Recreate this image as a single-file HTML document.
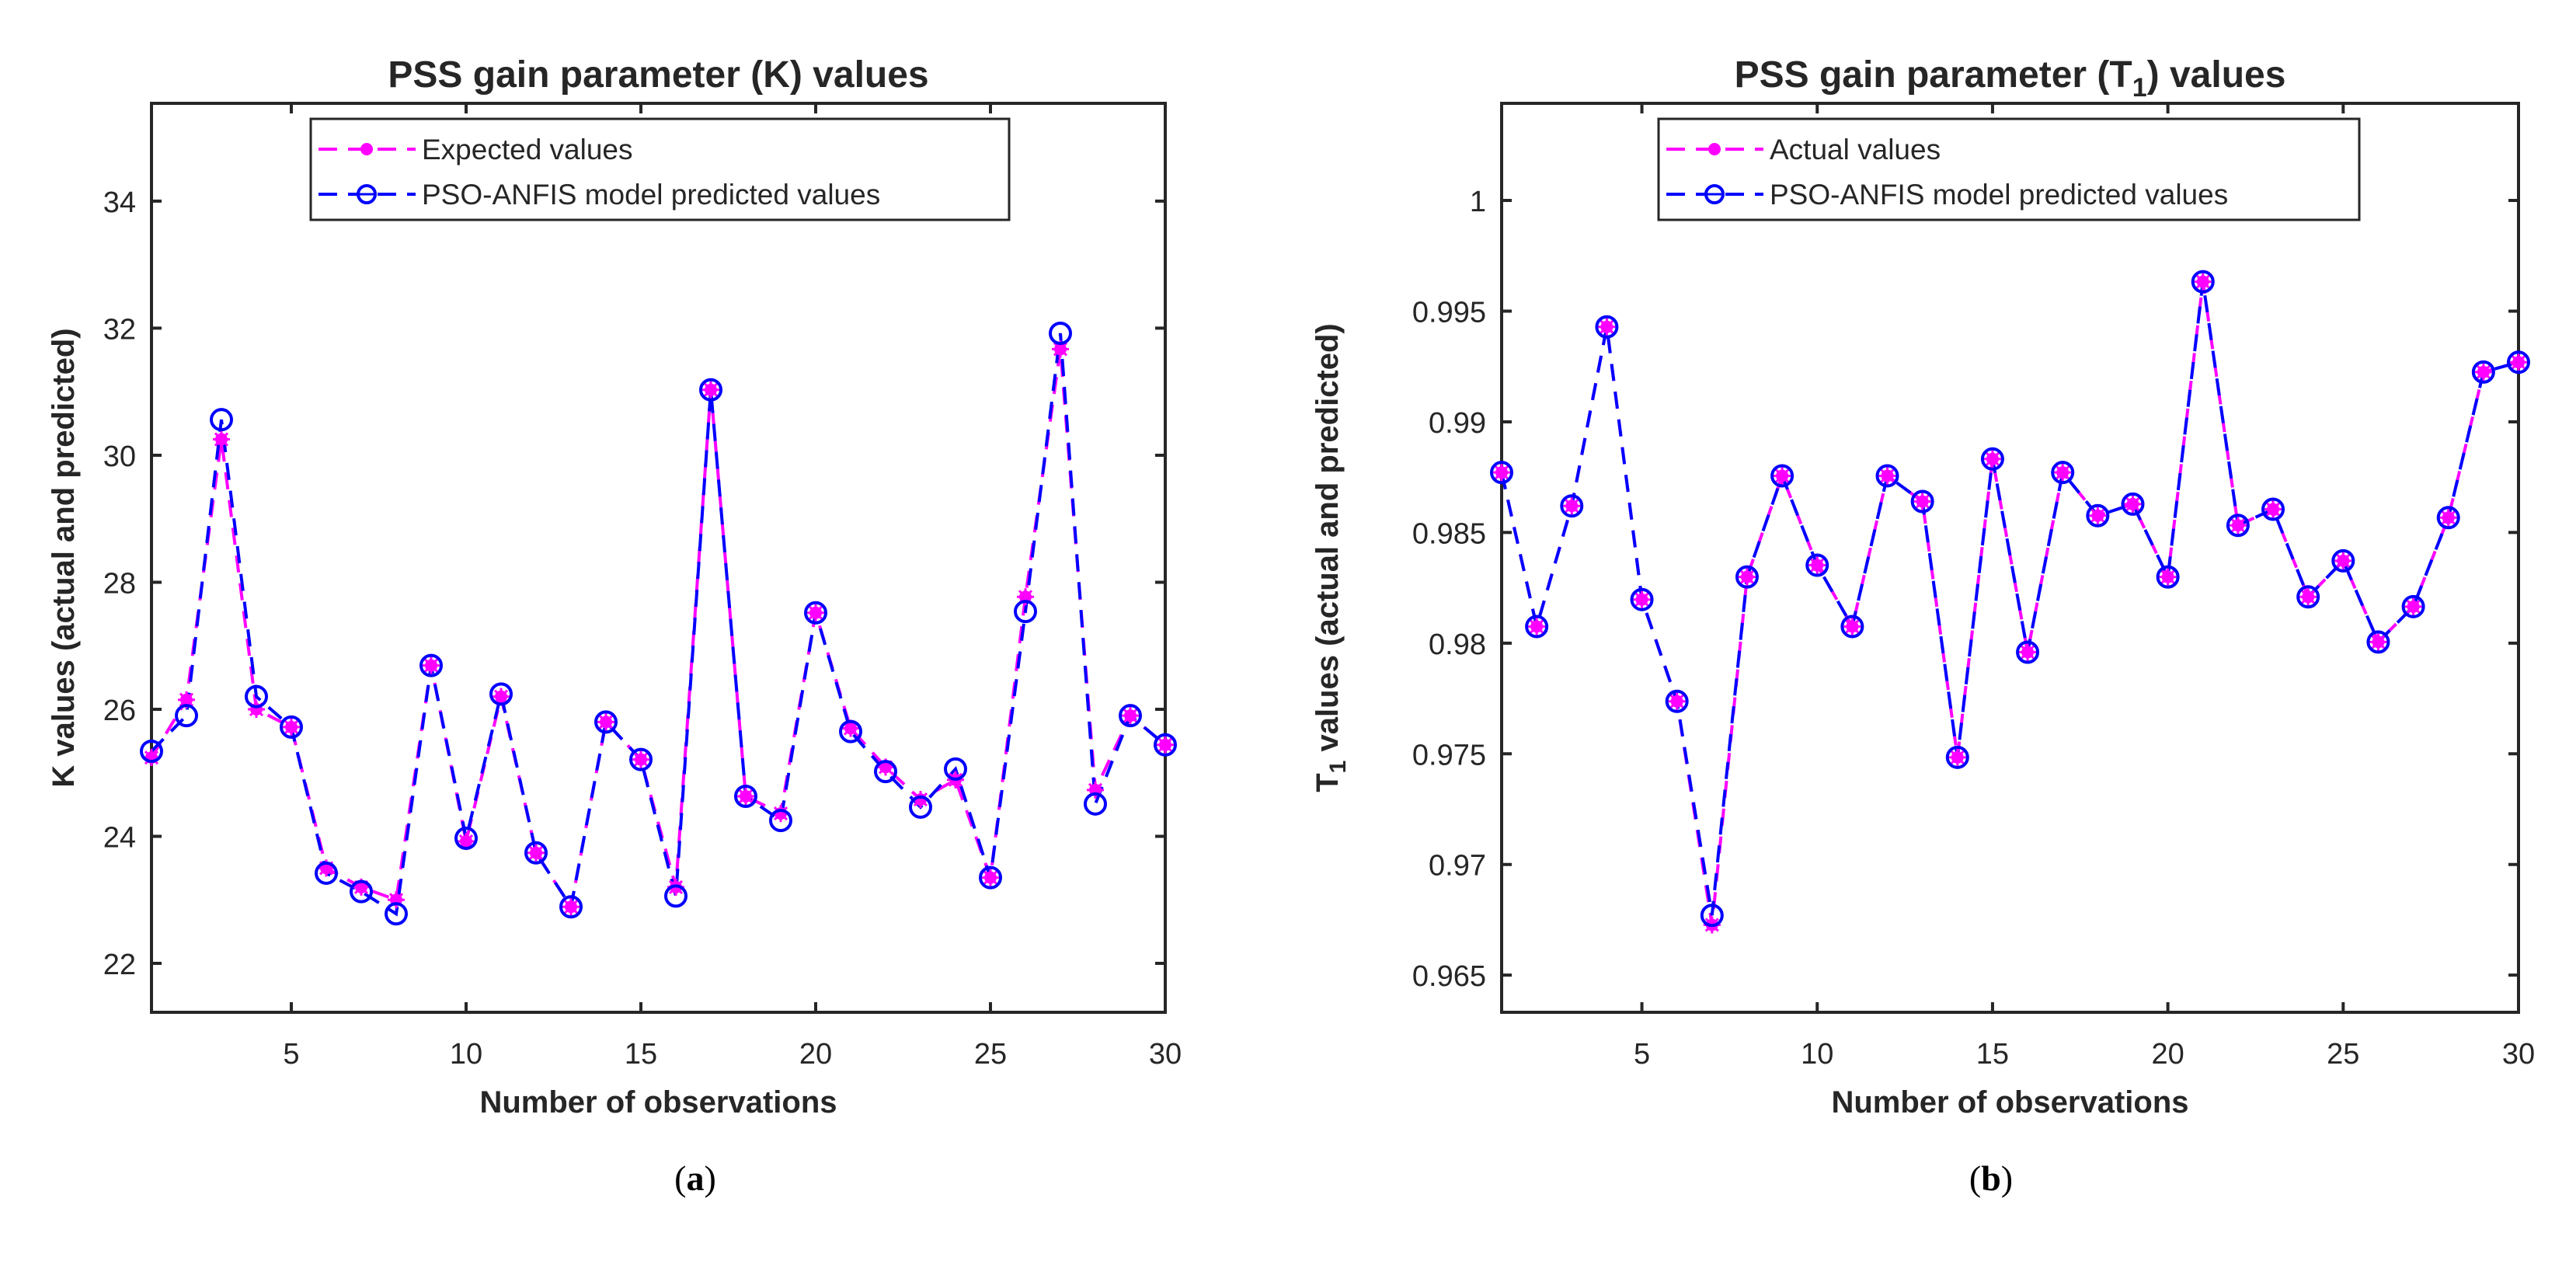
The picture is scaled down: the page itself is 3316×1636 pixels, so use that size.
<!DOCTYPE html>
<html><head><meta charset="utf-8">
<style>
html,body{margin:0;padding:0;background:#fff;}
svg{display:block;}
text{font-family:"Liberation Sans",Arial,sans-serif;fill:#262626;}
</style></head>
<body>
<svg id="fig" width="3316" height="1636" viewBox="0 0 3316 1636" xmlns="http://www.w3.org/2000/svg">
<g id="pa"></g>
<g id="pb"></g>
<text x="895" y="1532" text-anchor="middle" style="font-family:'Liberation Serif',serif;font-size:46px;fill:#000">(<tspan font-weight="bold">a</tspan>)</text>
<text x="2563" y="1532" text-anchor="middle" style="font-family:'Liberation Serif',serif;font-size:46px;fill:#000">(<tspan font-weight="bold">b</tspan>)</text>
</svg>
<script>
const obs = [1,2,3,4,5,6,7,8,9,10,11,12,13,14,15,16,17,18,19,20,21,22,23,24,25,26,27,28,29,30];
const kExpected = [25.24,26.15,30.25,26.0,25.72,23.5,23.2,23.0,26.69,23.92,26.2,23.74,22.89,25.8,25.21,23.2,31.03,24.63,24.36,27.52,25.7,25.09,24.58,24.89,23.35,27.77,31.67,24.73,25.9,25.44];
const kPredicted = [25.34,25.9,30.56,26.2,25.72,23.42,23.13,22.78,26.69,23.97,26.24,23.74,22.89,25.8,25.21,23.06,31.03,24.63,24.25,27.52,25.65,25.02,24.46,25.06,23.35,27.54,31.92,24.51,25.9,25.44];
const t1Actual = [0.98771,0.98075,0.9862,0.99429,0.98197,0.97737,0.96727,0.98299,0.98756,0.98352,0.98075,0.98756,0.9864,0.97484,0.98832,0.97959,0.98771,0.98576,0.98628,0.98299,0.99633,0.98532,0.98605,0.98209,0.98372,0.98005,0.98165,0.98567,0.99225,0.99269];
const t1Predicted = [0.98771,0.98075,0.9862,0.99429,0.98197,0.97737,0.9677,0.98299,0.98756,0.98352,0.98075,0.98756,0.9864,0.97484,0.98832,0.97959,0.98771,0.98576,0.98628,0.98299,0.99633,0.98532,0.98605,0.98209,0.98372,0.98005,0.98165,0.98567,0.99225,0.99269];
const xTicks = [5,10,15,20,25,30];
const kTicks = [22,24,26,28,30,32,34];
const kTickLabels = ["22","24","26","28","30","32","34"];
const t1Ticks = [0.965,0.97,0.975,0.98,0.985,0.99,0.995,1];
const t1TickLabels = ["0.965","0.97","0.975","0.98","0.985","0.99","0.995","1"];

const NS="http://www.w3.org/2000/svg";
function mk(parent,tag,attrs,txt){const e=document.createElementNS(NS,tag);for(const k in attrs)e.setAttribute(k,attrs[k]);if(txt!==undefined)e.textContent=txt;parent.appendChild(e);return e;}

function panel(g,cfg){
  const L=cfg.L,R=cfg.R,T=133,B=1303;
  const xs=v=>L+(v-1)/(29)*(R-L);
  const ys=v=>B-(v-cfg.ymin)/(cfg.ymax-cfg.ymin)*(B-T);
  const box=mk(g,'rect',{x:L,y:T,width:R-L,height:B-T,fill:'#fff',stroke:'#262626','stroke-width':4});
  
  
  xTicks.forEach(t=>{
    const x=xs(t);
    const tk=mk(g,'path',{d:`M${x},${B}V${B-13}M${x},${T}V${T+13}`,stroke:'#262626','stroke-width':4});
    
    
    const lb=mk(g,'text',{x:x,y:B+66,'text-anchor':'middle','font-size':38},String(t));
    
    
  });
  cfg.ticks.forEach((t,i)=>{
    const y=ys(t);
    const tk=mk(g,'path',{d:`M${L},${y}H${L+13}M${R},${y}H${R-13}`,stroke:'#262626','stroke-width':4});
    
    
    const lb=mk(g,'text',{x:L-20,y:y+14,'text-anchor':'end','font-size':38},cfg.labels[i]);
    
    
  });
  const pts=a=>a.map((v,i)=>xs(obs[i])+','+ys(v)).join(' ');
  const l1=mk(g,'polyline',{points:pts(cfg.s1),fill:'none',stroke:'#ff00ff','stroke-width':4,'stroke-dasharray':'22,14'});
  
  
  const l2=mk(g,'polyline',{points:pts(cfg.s2),fill:'none',stroke:'#0000ff','stroke-width':4,'stroke-dasharray':'22,14'});
  
  
  cfg.s1.forEach((v,i)=>{
    const x=xs(obs[i]),y=ys(v);
    const m=mk(g,'g',{});
    
    
    mk(m,'circle',{cx:x,cy:y,r:8,fill:'#ff00ff'});
    mk(m,'path',{d:`M${x-11},${y}H${x+11}M${x},${y-11}V${y+11}M${x-8},${y-8}L${x+8},${y+8}M${x-8},${y+8}L${x+8},${y-8}`,stroke:'#ff00ff','stroke-width':3});
  });
  cfg.s2.forEach((v,i)=>{
    const c=mk(g,'circle',{cx:xs(obs[i]),cy:ys(v),r:13,fill:'none',stroke:'#0000ff','stroke-width':4});
    
    
  });
  const lg=mk(g,'g',{});
  
  
  mk(lg,'rect',{x:cfg.lgL,y:153,width:cfg.lgR-cfg.lgL,height:130,fill:'#fff',stroke:'#262626','stroke-width':3});
  const sx=cfg.lgL+10;
  const e1=mk(lg,'g',{});
  
  
  mk(e1,'path',{d:`M${sx},192H${sx+125}`,stroke:'#ff00ff','stroke-width':4,'stroke-dasharray':'24,14'});
  mk(e1,'circle',{cx:sx+62,cy:192,r:8,fill:'#ff00ff'});
  mk(e1,'text',{x:sx+133,y:205,'font-size':37},cfg.lg1);
  const e2=mk(lg,'g',{});
  
  
  mk(e2,'path',{d:`M${sx},250H${sx+125}`,stroke:'#0000ff','stroke-width':4,'stroke-dasharray':'24,14'});
  mk(e2,'circle',{cx:sx+62,cy:250,r:11,fill:'#fff',stroke:'#0000ff','stroke-width':4});
  mk(e2,'path',{d:`M${sx+52},250H${sx+72}`,stroke:'#0000ff','stroke-width':3});
  mk(e2,'text',{x:sx+133,y:263,'font-size':37},'PSO-ANFIS model predicted values');
  const tt=mk(g,'text',{x:(L+R)/2,y:112,'text-anchor':'middle','font-size':48,'font-weight':'bold',fill:'#000'});
  tt.innerHTML=cfg.title;
  
  
  const xt=mk(g,'text',{x:(L+R)/2,y:1432,'text-anchor':'middle','font-size':40,'font-weight':'bold'},'Number of observations');
  
  
  const yt=mk(g,'text',{x:0,y:0,'text-anchor':'middle','font-size':40,'font-weight':'bold',transform:`translate(${cfg.ytX},${(T+B)/2}) rotate(-90)`});
  yt.innerHTML=cfg.ytitle;
  
  
}
panel(document.getElementById('pa'),{L:195,R:1500,ymin:21.23,ymax:35.54,ticks:kTicks,labels:kTickLabels,s1:kExpected,s2:kPredicted,lgL:400,lgR:1299,lg1:'Expected values',title:'PSS gain parameter (K) values',ytitle:'K values (actual and predicted)',ytX:95});
panel(document.getElementById('pb'),{L:1933,R:3242,ymin:0.96332,ymax:1.00439,ticks:t1Ticks,labels:t1TickLabels,s1:t1Actual,s2:t1Predicted,lgL:2135,lgR:3037,lg1:'Actual values',title:'PSS gain parameter (T<tspan font-size="34" dy="12">1</tspan><tspan dy="-12">) values</tspan>',ytitle:'T<tspan font-size="30" dy="10">1</tspan><tspan dy="-10"> values (actual and predicted)</tspan>',ytX:1722});
</script>
</body></html>
